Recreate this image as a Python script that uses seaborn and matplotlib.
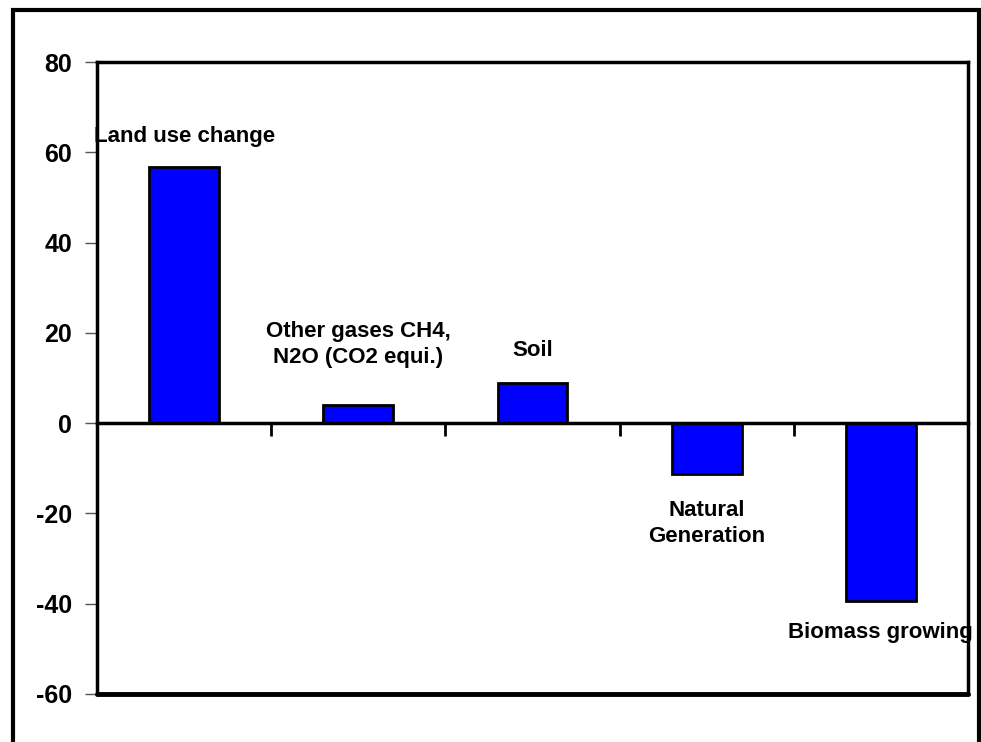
import numpy as np
import pandas as pd
import matplotlib
matplotlib.use("Agg")
import matplotlib.pyplot as plt
import seaborn as sns
from matplotlib.patches import Rectangle

categories = ["Land use change", "Other gases CH4,\nN2O (CO2 equi.)", "Soil",
              "Natural\nGeneration", "Biomass growing"]
values = [56.7, 4.0, 8.9, -11.3, -39.4]
label_y = [63.4, 17.5, 16.2, -22.2, -46.3]
yticks = [-60, -40, -20, 0, 20, 40, 60, 80]

sns.set_style("white")
plt.rcParams['font.family'] = ['Liberation Sans Narrow', 'Liberation Sans', 'DejaVu Sans']
plt.rcParams['text.color'] = 'black'
plt.rcParams['xtick.color'] = 'black'
plt.rcParams['ytick.color'] = 'black'

df = pd.DataFrame({"cat": categories, "val": values})

fig = plt.figure(figsize=(9.81, 7.42), dpi=100)
ax = fig.add_axes([0.0989, 0.0647, 0.8878, 0.8517])

sns.barplot(data=df, x="cat", y="val", color="#0000FF", edgecolor="black",
            linewidth=2, width=0.4, saturation=1, ax=ax)

ax.set_ylim(-60, 80)
ax.set_xlim(-0.5, len(categories) - 0.5)
ax.set_yticks(yticks)
ax.set_yticklabels([str(t) for t in yticks], fontsize=18, fontweight="bold")
ax.tick_params(axis="y", left=True, length=9, width=1, color="#555555",
               labelcolor="black", pad=9)

# category axis crosses at zero, ticks between categories
ax.spines["bottom"].set_position(("data", 0))
ax.set_xticks(np.arange(len(categories) - 1) + 0.5)
ax.set_xticklabels([])
ax.tick_params(axis="x", bottom=True, direction="out", length=9, width=2, color="black")
for s in ["left", "right", "top", "bottom"]:
    ax.spines[s].set_visible(True)
    ax.spines[s].set_color("black")
    ax.spines[s].set_linewidth(2.5)
ax.axhline(-60, color="black", lw=3.5, clip_on=False)
ax.set_xlabel("")
ax.set_ylabel("")

for i, (name, y) in enumerate(zip(categories, label_y)):
    ax.text(i, y, name, ha="center", va="center", fontsize=16, color="black",
            fontweight="bold", linespacing=1.3, clip_on=False)

fig.patches.append(Rectangle((0.013, -0.01), 0.985, 0.997, transform=fig.transFigure,
                             fill=False, edgecolor="black", linewidth=3))

fig.savefig("out.png", dpi=100)
